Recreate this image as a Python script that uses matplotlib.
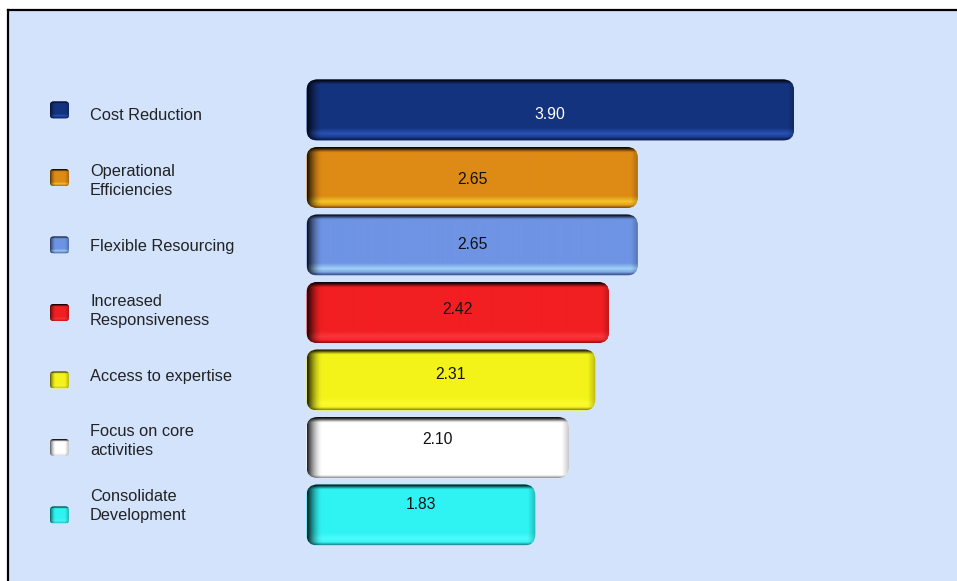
import numpy as np
import matplotlib
matplotlib.use("Agg")
import matplotlib.pyplot as plt
from matplotlib.patches import FancyBboxPatch, Rectangle
from matplotlib.lines import Line2D
from matplotlib.colors import to_rgb

plt.rcParams['font.family'] = ['Liberation Sans', 'DejaVu Sans']

# ---- data ----
categories = ["Cost Reduction", "Operational\nEfficiencies", "Flexible Resourcing",
              "Increased\nResponsiveness", "Access to expertise",
              "Focus on core\nactivities", "Consolidate\nDevelopment"]
values = [3.90, 2.65, 2.65, 2.42, 2.31, 2.10, 1.83]
value_labels = ["3.90", "2.65", "2.65", "2.42", "2.31", "2.10", "1.83"]
colors = ["#15347f", "#de8b16", "#6e94e4", "#f21f22", "#f4f41a", "#ffffff", "#30f4f4"]
value_text_colors = ["white", "#111111", "#111111", "#111111", "#111111", "#111111", "#111111"]

# ---- layout (pixel geometry) ----
W, H = 957, 581
X0_PX = 306.5          # x pixel of value 0
PX_PER_UNIT = 125.0    # pixels per value unit
Y0_PX = 110.0          # centre of first bar
ROW_PX = 67.5          # pixel pitch of bar rows
BAR_H_PX = 61.0
R_PX = 11.0

fig = plt.figure(figsize=(W / 100, H / 100), dpi=100)
fig.patch.set_facecolor("white")

# background panel with top/left border
bg = Rectangle((8 / W, 0), 1, (H - 10) / H, transform=fig.transFigure,
               facecolor="#d3e3fc", edgecolor="none", zorder=-2)
fig.add_artist(bg)
fig.add_artist(Line2D([8 / W, 1], [(H - 10) / H] * 2, transform=fig.transFigure,
                      color="black", lw=1.6, zorder=-1))
fig.add_artist(Line2D([8 / W] * 2, [0, (H - 10) / H], transform=fig.transFigure,
                      color="black", lw=1.6, zorder=-1))

ax = fig.add_axes([0, 0, 1, 1])
ax.set_facecolor("none")
ax.axis("off")


def dx(px):
    return (px - X0_PX) / PX_PER_UNIT


def dy(px):
    return (px - Y0_PX) / ROW_PX


def shaded_image(color, wpx, hpx, left=16, top=6, bottom=12, right=8, edge_dark=0.45, lmin=0.1):
    wpx = max(int(round(wpx)), 2)
    hpx = max(int(round(hpx)), 2)
    base = np.array(to_rgb(color))
    x = np.arange(wpx) + 0.5
    y = np.arange(hpx) + 0.5
    t = np.clip(x / left, 0, 1)
    fl = lmin + (1 - lmin) * np.sqrt(t * t * (3 - 2 * t))
    fr = 0.75 + 0.25 * np.clip((wpx - x) / right, 0, 1)
    tt = np.clip(y / top, 0, 1)
    ft = 0.05 + 0.95 * (tt * tt * (3 - 2 * tt))
    fac = ft[:, None] * fl[None, :] * fr[None, :]
    img = base[None, None, :] * fac[:, :, None]
    # bottom highlight
    yb = (hpx - y)
    hl = np.clip(1 - np.abs(yb - bottom * 0.55) / (bottom * 0.45), 0, 1)
    bright = np.clip(base * 1.55 + 0.08, 0, 1)
    img = img * (1 - 0.6 * hl[:, None, None]) + (bright[None, None, :] * fac[:, :, None]) * 0.6 * hl[:, None, None]
    # thin dark bottom edge
    edge = np.clip(1 - yb / 3.0, 0, 1)
    img = img * (1 - edge_dark * edge[:, None, None])
    return np.clip(img, 0, 1)


def draw_rounded(x0, yc, width, height_px, width_px, color, r_px, **kw):
    h = height_px / ROW_PX
    r = r_px / PX_PER_UNIT
    patch = FancyBboxPatch((x0, yc - h / 2), width, h,
                           boxstyle=f"round,pad=0,rounding_size={r}",
                           mutation_aspect=PX_PER_UNIT / ROW_PX,
                           facecolor=color, edgecolor="none", zorder=2)
    ax.add_patch(patch)
    img = shaded_image(color, width_px, height_px, **kw)
    im = ax.imshow(img, extent=[x0, x0 + width, yc + h / 2, yc - h / 2],
                   origin="upper", aspect="auto", interpolation="antialiased", zorder=3)
    im.set_clip_path(patch)


# ---- bars ----
for i, (v, c) in enumerate(zip(values, colors)):
    draw_rounded(0, i, v, BAR_H_PX, v * PX_PER_UNIT, c, R_PX)

# ---- legend markers and labels ----
LABEL_Y0 = 116.0
LABEL_ROW = 65.0
for i, (cat, c) in enumerate(zip(categories, colors)):
    mx0 = dx(50)
    mw = 19 / PX_PER_UNIT
    draw_rounded(mx0, i, mw, 17, 19, c, 3.5, left=6, top=3, bottom=4, right=4,
                 edge_dark=0.15, lmin=0.35)
    ty = dy(LABEL_Y0 + LABEL_ROW * i)
    ax.text(dx(90), ty, cat, ha="left", va="center", fontsize=11.8,
            color="#222222", linespacing=1.3, zorder=5)

# ---- value labels ----
for i, (v, lab, tc) in enumerate(zip(values, value_labels, value_text_colors)):
    ty = dy(LABEL_Y0 - 1.5 + LABEL_ROW * i)
    ax.text(v / 2, ty, lab, ha="center", va="center", fontsize=11.3,
            color=tc, zorder=6)

ax.set_xlim(dx(0), dx(W))
ax.set_ylim(dy(H), dy(0))

fig.savefig("out.png", dpi=100, facecolor=fig.get_facecolor())
